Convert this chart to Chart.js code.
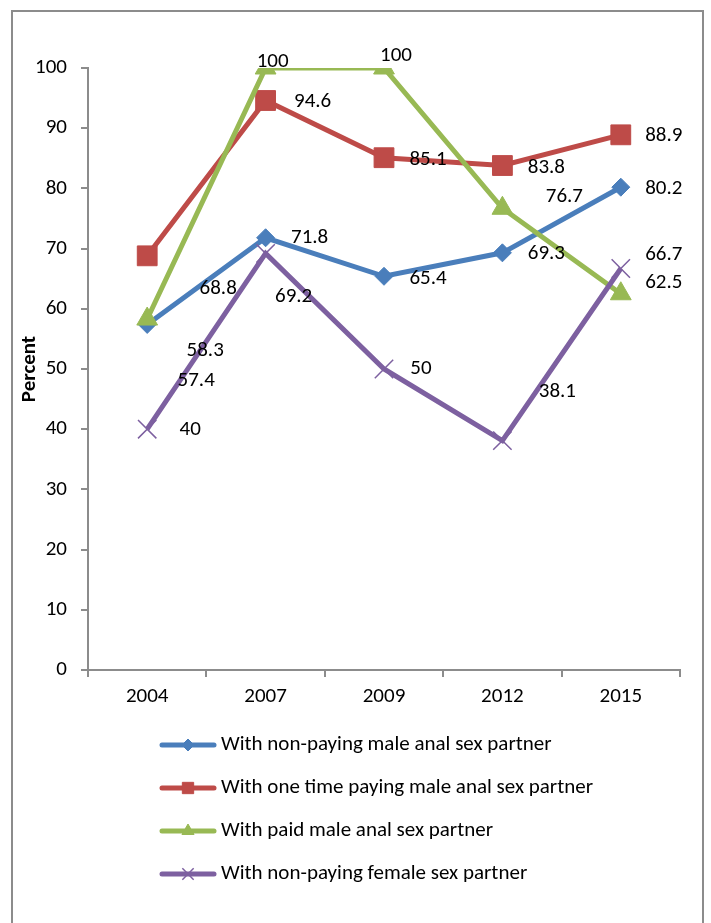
<!DOCTYPE html>
<html>
<head>
<meta charset="utf-8">
<script src="https://cdn.jsdelivr.net/npm/chart.js@4.4.1/dist/chart.umd.min.js"></script>
<style>
  html, body { margin: 0; padding: 0; background: #fff; }
  #wrap { position: relative; width: 711px; height: 923px; }
</style>
</head>
<body>
<div id="wrap"><canvas id="myChart" width="711" height="923"></canvas></div>
<script>
// chart data
const years = ['2004', '2007', '2009', '2012', '2015'];
const nonPayingMale = [57.4, 71.8, 65.4, 69.3, 80.2];
const oneTimePayingMale = [68.8, 94.6, 85.1, 83.8, 88.9];
const paidMale = [58.3, 100, 100, 76.7, 62.5];
const nonPayingFemale = [40, 69.2, 50, 38.1, 66.7];
const seriesNames = [
    'With non-paying male anal sex partner',
    'With one time paying male anal sex partner',
    'With paid male anal sex partner',
    'With non-paying female sex partner'
];
const yTicks = [0, 10, 20, 30, 40, 50, 60, 70, 80, 90, 100];

const FONT = 'Carlito, Lato, "Open Sans", sans-serif';
const colors = ['#4A7EBB', '#BE4B48', '#98B954', '#7D60A0'];

// where each value label sits relative to its point (px), like the hand-placed excel labels
const labelOffsets = [
    [[49, 56], [44, 0], [44, 2], [44, 1], [43, 2]],
    [[71, 33], [47, 1], [44, 2], [44, 2], [43, 1]],
    [[58, 32], [7, -6], [12, -12], [62, -12], [43, -11]],
    [[43, 1], [28, 43], [37, 0], [55, -49], [43, -14]]
];

const frame = {
    id: 'frame',
    beforeDraw(chart) {
        const c = chart.ctx;
        c.save();
        c.strokeStyle = '#8c8c8c';
        c.lineWidth = 2;
        c.beginPath();
        c.moveTo(12, 930);
        c.lineTo(12, 11);
        c.lineTo(703, 11);
        c.lineTo(703, 930);
        c.stroke();
        c.restore();
    }
};

const valueLabels = {
    id: 'valueLabels',
    afterDatasetsDraw(chart) {
        const c = chart.ctx;
        c.save();
        c.font = '21px ' + FONT;
        c.fillStyle = '#000';
        c.textAlign = 'center';
        c.textBaseline = 'middle';
        chart.data.datasets.forEach((ds, i) => {
            const meta = chart.getDatasetMeta(i);
            meta.data.forEach((pt, j) => {
                const off = labelOffsets[i][j];
                c.fillText(String(ds.data[j]), pt.x + off[0], pt.y + off[1]);
            });
        });
        c.restore();
    }
};

const sideLegend = {
    id: 'sideLegend',
    afterDraw(chart) {
        const c = chart.ctx;
        const top = 745, gap = 43;
        chart.data.datasets.forEach((ds, i) => {
            const y = top + i * gap;
            c.save();
            c.strokeStyle = ds.borderColor;
            c.lineWidth = 5;
            c.lineCap = 'round';
            c.beginPath();
            c.moveTo(162, y);
            c.lineTo(214, y);
            c.stroke();
            c.restore();
            c.save();
            c.fillStyle = ds.borderColor;
            c.strokeStyle = ds.borderColor;
            c.lineWidth = ds.pointStyle === 'crossRot' ? 1.5 : 1;
            Chart.helpers.drawPoint(c, {
                pointStyle: ds.pointStyle,
                radius: ds.legendRadius,
                borderWidth: c.lineWidth
            }, 188, y);
            c.restore();
            c.save();
            c.font = '21px ' + FONT;
            c.fillStyle = '#000';
            c.textBaseline = 'middle';
            c.fillText(seriesNames[i], 221, y);
            c.restore();
        });
    }
};

const ctx = document.getElementById('myChart');

function series(i, data, style, radius, legendRadius, order) {
    return {
        label: seriesNames[i],
        data: data,
        borderColor: colors[i],
        backgroundColor: colors[i],
        pointBackgroundColor: colors[i],
        pointBorderColor: colors[i],
        pointStyle: style,
        pointRadius: radius,
        pointHoverRadius: radius,
        pointBorderWidth: style === 'crossRot' ? 1.5 : 1,
        borderWidth: 5,
        tension: 0,
        order: order,
        legendRadius: legendRadius
    };
}

new Chart(ctx, {
    type: 'line',
    data: {
        labels: years,
        datasets: [
            series(0, nonPayingMale, 'rectRot', 9, 6, 3),
            series(1, oneTimePayingMale, 'rect', 14, 8, 2),
            series(2, paidMale, 'triangle', 12, 7, 1),
            series(3, nonPayingFemale, 'crossRot', 13, 8, 0)
        ]
    },
    options: {
        responsive: false,
        animation: false,
        devicePixelRatio: 1,
        layout: {
            padding: { left: 14, right: 31, top: 68, bottom: 200 }
        },
        plugins: {
            legend: { display: false },
            tooltip: { enabled: false }
        },
        scales: {
            x: {
                type: 'category',
                offset: true,
                afterFit(scale) { scale.height = 53; },
                grid: {
                    offset: true,
                    drawOnChartArea: false,
                    drawTicks: true,
                    tickLength: 7,
                    color: '#8c8c8c',
                    lineWidth: 2
                },
                border: { color: '#8c8c8c', width: 2 },
                ticks: {
                    color: '#000',
                    padding: 7,
                    maxRotation: 0,
                    font: { family: FONT, size: 21 }
                }
            },
            y: {
                min: 0,
                max: 100,
                afterFit(scale) { scale.width = 74; },
                afterBuildTicks(scale) {
                    scale.ticks = yTicks.map(v => ({ value: v }));
                },
                grid: {
                    drawOnChartArea: false,
                    drawTicks: true,
                    tickLength: 7,
                    color: '#8c8c8c',
                    lineWidth: 2
                },
                border: { color: '#8c8c8c', width: 2 },
                ticks: {
                    color: '#000',
                    padding: 14,
                    font: { family: FONT, size: 21 }
                },
                title: {
                    display: true,
                    text: 'Percent',
                    color: '#000',
                    padding: { top: 3, bottom: 0 },
                    font: { family: FONT, size: 21, weight: 'bold' }
                }
            }
        }
    },
    plugins: [frame, valueLabels, sideLegend]
});
</script>
</body>
</html>
